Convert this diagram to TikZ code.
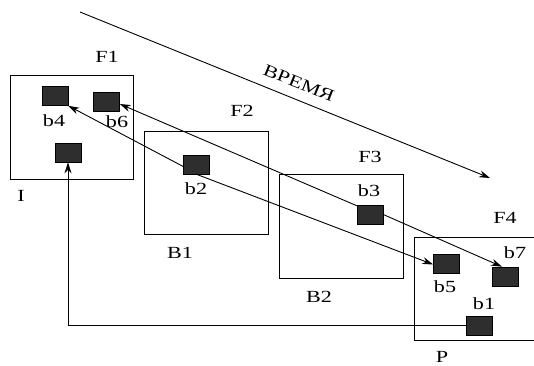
\documentclass[tikz,border=0pt]{standalone}
\usepackage{fontspec}
\setmainfont{Liberation Serif}[FakeStretch=1.3]
\usetikzlibrary{arrows.meta,positioning,calc}

\begin{document}
\begin{tikzpicture}[x=1pt, y=-1pt, >={Stealth[length=11pt,width=7pt]},
    frame/.style={draw, line width=0.9pt, rectangle, inner sep=0pt},
    blk/.style={draw, line width=0.6pt, rectangle, fill=black!82, minimum width=26pt, minimum height=19pt, inner sep=0pt},
    lbl/.style={inner sep=0pt, font=\fontsize{17}{19}\selectfont},
    link/.style={->, line width=0.9pt}]
    \useasboundingbox (0,0) rectangle (534,365);

    % frames
    \node[frame, minimum width=123pt, minimum height=104pt] (f1) at (71.5,127) {};
    \node[frame, minimum width=124pt, minimum height=103pt] (f2) at (206,182.5) {};
    \node[frame, minimum width=124pt, minimum height=104pt] (f3) at (341,226) {};
    \node[frame, minimum width=131pt, minimum height=103pt] (f4) at (479.5,288.5) {};

    \node[lbl] (lf1) at (107,57) {F1};
    \node[lbl] (lf2) at (242,111) {F2};
    \node[lbl] (lf3) at (370,157) {F3};
    \node[lbl] (lf4) at (505,218) {F4};
    \node[lbl] (li) at (21,196) {I};
    \node[lbl] (lb1) at (180,253) {B1};
    \node[lbl] (lb2) at (319,297) {B2};
    \node[lbl] (lp) at (442,357) {P};

    % blocks
    \node[blk] (b4) at (55,96) {};
    \node[blk] (b6) at (106.5,102) {};
    \node[blk] (b0) at (68,152.5) {};
    \node[blk] (b2) at (196.5,164.5) {};
    \node[blk] (b3) at (370,214.5) {};
    \node[blk] (b5) at (446.5,263.5) {};
    \node[blk] (b7) at (505,276.5) {};
    \node[blk] (b1) at (479,325.5) {};

    \node[lbl] at (54,121) {b4};
    \node[lbl] at (117,122) {b6};
    \node[lbl] at (196,189) {b2};
    \node[lbl] at (369,191) {b3};
    \node[lbl] at (445,287) {b5};
    \node[lbl] at (515,253) {b7};
    \node[lbl] at (484,304) {b1};

    % time
    \coordinate (t0) at (80,12);
    \coordinate (t1) at (490,178);
    \draw[link] (t0) -- (t1);
    \node[lbl, rotate=-22] (time) at (299,83) {ВРЕМЯ};

    \draw[link] ([yshift=-2pt]b2.west) -- (b4.south east);
    \draw[link] (b2.south) -- ([yshift=-1pt]b5.west);
    \draw[link] ([yshift=-1pt]b3.north west) -- ([yshift=-2pt]b6.east);
    \draw[link] (b3.east) -- ([xshift=-3pt]b7.north);
    \draw[link] (b1.west) -| (b0.south);
\end{tikzpicture}
\end{document}
